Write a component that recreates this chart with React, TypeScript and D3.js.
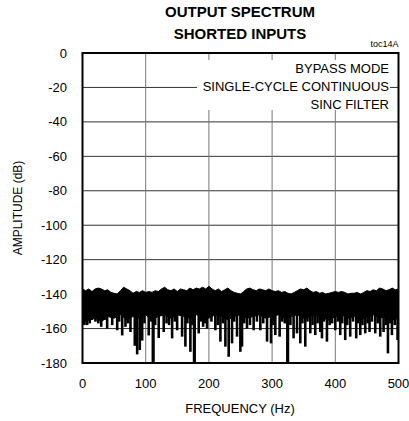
import * as d3 from "d3";

// axis ticks
const yTicks = [0, -20, -40, -60, -80, -100, -120, -140, -160, -180];
const xTicks = [0, 100, 200, 300, 400, 500];

// top edge of the noise floor, every 5 Hz from 0 to 500 Hz (dB)
const upperEnv = [
  -137, -138, -137, -138.5, -137, -136.5, -137, -138, -137.5, -139,
  -139.5, -140, -138, -136, -137, -138, -139.5, -138.5, -139, -138,
  -139, -138.5, -139, -138, -138.5, -137, -136, -137.5, -138, -137,
  -138.5, -137, -137.5, -138, -136.5, -137.5, -136.5, -137, -136, -137,
  -135.5, -137, -138, -137, -138.5, -137.5, -136.5, -138, -139, -139.5,
  -140, -138.5, -137, -136.5, -137.5, -138, -137, -137.5, -138, -137,
  -138, -138.5, -138, -139, -138.5, -139.5, -140, -139, -138, -137,
  -137.5, -136.5, -138, -139, -138.5, -139.5, -139, -140, -139.5, -139,
  -138.5, -139, -138.5, -139, -140, -139.5, -139.5, -139, -140, -139,
  -138, -138.5, -137.5, -138, -136.5, -137, -138, -137.5, -136.5, -137.5,
  -137,
];

// bottom of the solid band, every 10 Hz (dB)
const lowerEnv = [
  -157, -155, -154, -156, -153, -154, -152, -155, -153, -154,
  -152, -155, -153, -152, -154, -152, -153, -154, -152, -153,
  -154, -152, -153, -155, -153, -152, -154, -153, -152, -154,
  -153, -152, -154, -153, -152, -154, -153, -152, -154, -155,
  -153, -152, -154, -153, -155, -153, -152, -154, -153, -155,
  -154,
];

// downward dips below the band [Hz, dB]
const dips: [number, number][] = [
  [3, -158], [7.4, -158], [11.5, -157], [15, -155], [20.5, -156], [25, -157],
  [29.6, -159], [35, -155], [39, -160], [47, -158], [54.9, -161], [58, -156],
  [62.8, -164], [68, -159], [72, -157], [75.9, -162], [82.7, -170], [86.5, -175],
  [90.6, -172.5], [94.4, -167], [98, -157], [104.8, -164], [108, -156],
  [111.8, -180], [115, -158], [120.6, -165.5], [128.5, -162], [133, -157],
  [137, -158], [141.8, -165.7], [146, -156], [149.7, -161], [157.6, -164.7],
  [162.8, -170.5], [166, -157], [170.7, -173.5], [174, -158], [177, -180],
  [183.9, -162.8], [187, -156], [190.8, -159], [194, -157], [197.1, -160],
  [204, -156], [210.2, -161], [214, -158], [218.2, -167.6], [222, -157],
  [226.1, -170.5], [231.3, -176.4], [236.6, -168.6], [240, -156], [244.5, -164.7],
  [249.8, -173.5], [252.4, -170.5], [256, -157], [260.3, -160], [265, -158],
  [270.8, -161], [276, -156], [281.4, -161], [286, -157], [292, -167.6],
  [298.3, -168.6], [302, -158], [305.1, -163.8], [311.9, -164.7], [316, -156],
  [320, -157], [324.6, -180], [329, -158], [334, -165.7], [339.4, -162.8],
  [344.6, -168.6], [348, -157], [352.5, -170.5], [356, -156], [360.4, -162.8],
  [364, -158], [368.3, -163.8], [372, -157], [376.2, -162], [378.9, -165.7],
  [382, -156], [386.8, -167.6], [391, -158], [395, -157], [400, -161],
  [404, -156], [407.8, -163.8], [411, -157], [415.7, -166.7], [419, -158],
  [423.6, -164.7], [428, -156], [433.1, -165.7], [436, -157], [439.5, -163.8],
  [443, -158], [447.4, -162.8], [451, -157], [454.2, -162], [458, -156],
  [463.2, -162.8], [467, -157], [471.1, -164.7], [476.4, -162], [480, -158],
  [483.3, -174.4], [486, -157], [489.6, -163.8], [494, -158], [498.5, -166.7],
];

const noteLines = ["BYPASS MODE", "SINGLE-CYCLE CONTINUOUS", "SINC FILTER"];

const W = 409;
const H = 421;
const left = 82.5, right = 398.5, top = 53, bottom = 363;
const font = "'Liberation Sans', Arial, sans-serif";

const App = () => {
  const x = d3.scaleLinear().domain([0, 500]).range([left, right]);
  const y = d3.scaleLinear().domain([-180, 0]).range([bottom, top]);

  const upperPts: [number, number][] = upperEnv.map((v, i) => [i * 5, v]);
  const lowerPts: [number, number][] = lowerEnv.map((v, i) => [i * 10, v]);
  const band = d3.line<[number, number]>()
    .x(d => x(d[0]))
    .y(d => y(d[1]));
  const bandPath = band([...upperPts, ...lowerPts.slice().reverse()]) + "Z";

  return (
    <svg width={W} height={H} style={{ position: "absolute", left: 0, top: 0, background: "#fff" }}
      fontFamily={font}>
      {/* title */}
      <text x={240} y={17} textAnchor="middle" fontSize={15} fontWeight="bold">OUTPUT SPECTRUM</text>
      <text x={240} y={39} textAnchor="middle" fontSize={15} fontWeight="bold">SHORTED INPUTS</text>
      <text x={right} y={47} textAnchor="end" fontSize={9}>toc14A</text>

      {/* grid */}
      {yTicks.map(t => (
        <line key={"h" + t} x1={left} x2={right} y1={y(t)} y2={y(t)} stroke="#333" strokeWidth={1} />
      ))}
      {xTicks.map(t => (
        <line key={"v" + t} x1={x(t)} x2={x(t)} y1={top} y2={bottom} stroke="#777" strokeWidth={1} />
      ))}

      {/* annotation */}
      <rect x={197} y={60} width={193} height={50} fill="#fff" />
      {noteLines.map((s, i) => (
        <text key={s} x={389} y={73 + i * 18} textAnchor="end" fontSize={13}>{s}</text>
      ))}

      {/* noise floor */}
      <path d={bandPath} fill="#000" stroke="#000" strokeWidth={1} strokeLinejoin="round" />
      {dips.map(([f, v], i) => (
        <line key={i} x1={x(f)} x2={x(f)} y1={y(-152)} y2={y(v)}
          stroke="#000" strokeWidth={v <= -178 ? 3.2 : 2.6} />
      ))}

      {/* frame */}
      <rect x={left} y={top} width={right - left} height={bottom - top} fill="none" stroke="#000" strokeWidth={2} />

      {/* tick labels */}
      {yTicks.map(t => (
        <text key={"yl" + t} x={67} y={y(t) + 4.5} textAnchor="end" fontSize={13}>{t}</text>
      ))}
      {xTicks.map(t => (
        <text key={"xl" + t} x={x(t)} y={388} textAnchor="middle" fontSize={13}>{t}</text>
      ))}
      <text x={240} y={413} textAnchor="middle" fontSize={13}>FREQUENCY (Hz)</text>
      <text transform={`translate(22,${(top + bottom) / 2}) rotate(-90)`} textAnchor="middle" fontSize={12}>AMPLITUDE (dB)</text>
    </svg>
  );
};

export default App;
